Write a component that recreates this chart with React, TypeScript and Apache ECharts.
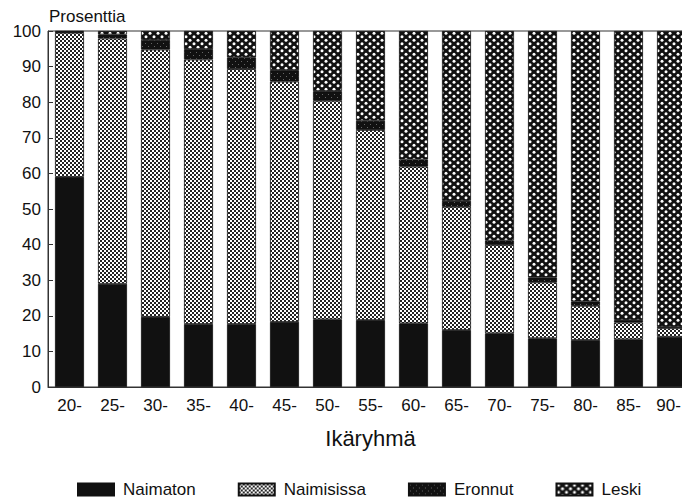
import React, { useEffect, useRef } from "react";
import * as echarts from "echarts";

const categories = ["20-", "25-", "30-", "35-", "40-", "45-", "50-", "55-", "60-", "65-", "70-", "75-", "80-", "85-", "90-"];
const naimaton = [59.0, 29.0, 19.7, 17.7, 17.7, 18.3, 19.0, 18.8, 17.9, 16.0, 15.1, 13.7, 13.2, 13.4, 14.1];
const naimisissa = [40.5, 68.9, 75.1, 74.3, 71.6, 67.5, 61.4, 53.4, 44.0, 34.6, 24.8, 15.7, 9.6, 4.7, 2.4];
const eronnut = [0.3, 1.1, 2.7, 2.9, 3.3, 3.2, 2.7, 2.6, 2.0, 1.7, 1.2, 1.4, 1.2, 0.7, 0.4];
const leski = [0.2, 1.0, 2.5, 5.1, 7.4, 11.0, 16.9, 25.2, 36.1, 47.7, 58.9, 69.2, 76.0, 81.2, 83.1];
const seriesNames = ["Naimaton", "Naimisissa", "Eronnut", "Leski"];
const yTicks = { min: 0, max: 100, interval: 10 };

const FONT = "'Liberation Sans', Arial, Helvetica, sans-serif";

function makeCanvas(w: number, h: number, draw: (ctx: CanvasRenderingContext2D) => void) {
  const c = document.createElement("canvas");
  c.width = w;
  c.height = h;
  const ctx = c.getContext("2d")!;
  draw(ctx);
  return c;
}

function patterns() {
  const checker = makeCanvas(4, 4, (ctx) => {
    ctx.fillStyle = "#fff";
    ctx.fillRect(0, 0, 4, 4);
    ctx.fillStyle = "#222";
    ctx.fillRect(0, 0, 2, 2);
    ctx.fillRect(2, 2, 2, 2);
  });
  const dark = makeCanvas(6, 6, (ctx) => {
    ctx.fillStyle = "#111";
    ctx.fillRect(0, 0, 6, 6);
    ctx.fillStyle = "#666";
    ctx.fillRect(1, 1, 1, 1);
    ctx.fillRect(4, 4, 1, 1);
  });
  const hex = makeCanvas(8, 7, (ctx) => {
    ctx.fillStyle = "#111";
    ctx.fillRect(0, 0, 8, 7);
    ctx.fillStyle = "#fff";
    const dots = [
      [2, 1.75],
      [6, 5.25],
    ];
    dots.forEach(([x, y]) => {
      ctx.beginPath();
      ctx.arc(x, y, 1.5, 0, Math.PI * 2);
      ctx.fill();
    });
  });
  return {
    naimaton: "#111",
    naimisissa: { image: checker, repeat: "repeat", imageWidth: 4, imageHeight: 4 },
    eronnut: { image: dark, repeat: "repeat", imageWidth: 6, imageHeight: 6 },
    leski: { image: hex, repeat: "repeat", imageWidth: 8, imageHeight: 7 },
  };
}

export default function App() {
  const ref = useRef<HTMLDivElement>(null);
  useEffect(() => {
    if (!ref.current) return;
    const chart = echarts.init(ref.current, null, { renderer: "svg" });
    const p = patterns();
    const colors: any[] = [p.naimaton, p.naimisissa, p.eronnut, p.leski];
    const datasets = [naimaton, naimisissa, eronnut, leski];
    const lastIdx = categories.length - 1;
    chart.setOption({
      animation: false,
      backgroundColor: "#fff",
      textStyle: { fontFamily: FONT, color: "#111" },
      title: {
        text: "Prosenttia",
        left: 44,
        top: 3,
        textStyle: { fontFamily: FONT, fontSize: 17, fontWeight: "normal", color: "#111" },
      },
      grid: {
        left: 48,
        top: 31,
        width: 645,
        height: 356,
        outerBoundsMode: "none",
        containLabel: false,
        show: true,
        borderColor: "#333",
        borderWidth: 1,
      },
      legend: {
        left: 72,
        top: 476,
        itemWidth: 36,
        itemHeight: 12,
        itemGap: 42,
        icon: "rect",
        data: seriesNames,
        textStyle: { fontFamily: FONT, fontSize: 17, color: "#111", padding: [0, 0, 0, 4] },
      },
      xAxis: {
        type: "category",
        data: categories,
        name: "Ikäryhmä",
        nameLocation: "middle",
        nameGap: 40,
        nameTextStyle: { fontFamily: FONT, fontSize: 22, color: "#111" },
        axisLine: { lineStyle: { color: "#333", width: 1 } },
        axisTick: { show: false },
        axisLabel: {
          interval: 0,
          hideOverlap: false,
          fontFamily: FONT,
          fontSize: 17,
          color: "#111",
          margin: 10,
          formatter: (v: string, i: number) => (i === lastIdx ? `{e|${v}}` : v),
          rich: {
            e: { fontFamily: FONT, fontSize: 17, color: "#111", padding: [0, 6, 0, 0] },
          },
        },
      },
      yAxis: {
        type: "value",
        min: yTicks.min,
        max: yTicks.max,
        interval: yTicks.interval,
        axisLine: { show: true, lineStyle: { color: "#333", width: 1 } },
        axisTick: { show: true, inside: true, length: 5, lineStyle: { color: "#333" } },
        splitLine: { show: false },
        axisLabel: { fontFamily: FONT, fontSize: 17, color: "#111", margin: 7 },
      },
      series: seriesNames.map((name, i) => ({
        name,
        type: "bar",
        stack: "total",
        barWidth: 29,
        data: datasets[i],
        itemStyle: { color: colors[i], borderColor: "#111", borderWidth: 0.8 },
        emphasis: { disabled: true },
      })),
    });
    return () => chart.dispose();
  }, []);
  return (
    <div
      ref={ref}
      style={{ position: "fixed", left: 0, top: 0, width: 682, height: 503, background: "#fff" }}
    />
  );
}
